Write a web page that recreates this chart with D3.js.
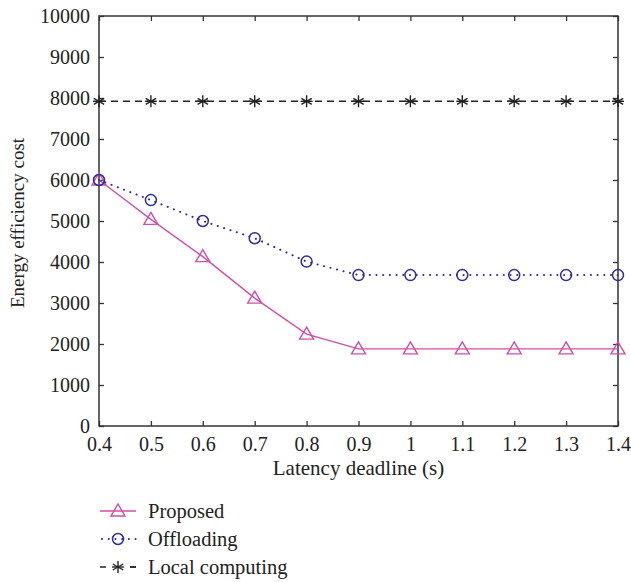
<!DOCTYPE html>
<html>
<head>
<meta charset="utf-8">
<script src="https://cdn.jsdelivr.net/npm/d3@7"></script>
<style>
  body { margin: 0; background: #fff; }
  text { font-family: "Liberation Serif", "DejaVu Serif", serif; fill: #222; }
</style>
</head>
<body>
<div id="chart"></div>
<script>
// data
let deadlines = [0.4, 0.5, 0.6, 0.7, 0.8, 0.9, 1.0, 1.1, 1.2, 1.3, 1.4];
let proposed = [6000, 5040, 4130, 3120, 2240, 1880, 1880, 1880, 1880, 1880, 1880];
let offloading = [6000, 5510, 5000, 4580, 4010, 3680, 3680, 3680, 3680, 3680, 3680];
let localComputing = [7920, 7920, 7920, 7920, 7920, 7920, 7920, 7920, 7920, 7920, 7920];
let xTicks = [0.4, 0.5, 0.6, 0.7, 0.8, 0.9, 1, 1.1, 1.2, 1.3, 1.4];
let yTicks = [0, 1000, 2000, 3000, 4000, 5000, 6000, 7000, 8000, 9000, 10000];

let seriesList = [
  { name: "Proposed", values: proposed, color: "#d14fa6", dash: null, marker: "triangle" },
  { name: "Offloading", values: offloading, color: "#2e2aa0", dash: "0.1,6.6", marker: "circle" },
  { name: "Local computing", values: localComputing, color: "#222", dash: "7,5", marker: "star" }
];

let fullWidth = 631, fullHeight = 582;
let margin = { top: 16, right: 13, bottom: 156, left: 99 };
let width = fullWidth - margin.left - margin.right;
let height = fullHeight - margin.top - margin.bottom;

let svg = d3.select("#chart").append("svg")
  .attr("width", fullWidth)
  .attr("height", fullHeight);

let chart = svg.append("g")
  .attr("transform", "translate(" + margin.left + "," + margin.top + ")");

let xScale = d3.scaleLinear().domain([0.4, 1.4]).range([0, width]);
let yScale = d3.scaleLinear().domain([0, 10000]).range([height, 0]);

// axes, ticks pointing inward, mirrored on top/right
function styleAxis(g) {
  g.select(".domain").remove();
  g.selectAll("line").attr("stroke", "#333").attr("stroke-width", 1.3);
  g.selectAll("text").style("font-size", "20px").attr("fill", "#222");
}

chart.append("g")
  .attr("transform", "translate(0," + height + ")")
  .call(d3.axisBottom(xScale).tickValues(xTicks).tickSizeInner(-5).tickSizeOuter(0).tickPadding(11)
    .tickFormat(function(d) { return d3.format("~g")(d); }))
  .call(styleAxis);

chart.append("g")
  .call(d3.axisTop(xScale).tickValues(xTicks).tickSizeInner(-5).tickSizeOuter(0).tickFormat(""))
  .call(styleAxis);

chart.append("g")
  .call(d3.axisLeft(yScale).tickValues(yTicks).tickSizeInner(-5).tickSizeOuter(0).tickPadding(9)
    .tickFormat(d3.format("d")))
  .call(styleAxis);

chart.append("g")
  .attr("transform", "translate(" + width + ",0)")
  .call(d3.axisRight(yScale).tickValues(yTicks).tickSizeInner(-5).tickSizeOuter(0).tickFormat(""))
  .call(styleAxis);

// frame
chart.append("rect")
  .attr("width", width)
  .attr("height", height)
  .attr("fill", "none")
  .attr("stroke", "#333")
  .attr("stroke-width", 1.5);

// markers
function drawMarker(g, type, color) {
  if (type === "triangle") {
    g.append("path").attr("d", "M0,-7 L7,5 L-7,5 Z")
      .attr("fill", "none").attr("stroke", color).attr("stroke-width", 1.4);
  } else if (type === "circle") {
    g.append("circle").attr("r", 5.5)
      .attr("fill", "none").attr("stroke", color).attr("stroke-width", 1.5);
  } else {
    let r = 6;
    [0, 60, 120].forEach(function(a) {
      let rad = a * Math.PI / 180;
      g.append("line")
        .attr("x1", -r * Math.sin(rad)).attr("y1", -r * Math.cos(rad))
        .attr("x2", r * Math.sin(rad)).attr("y2", r * Math.cos(rad))
        .attr("stroke", color).attr("stroke-width", 1.4);
    });
    g.append("line").attr("x1", -r).attr("x2", r).attr("y1", 0).attr("y2", 0)
      .attr("stroke", color).attr("stroke-width", 1.4);
  }
}

let line = d3.line()
  .x(function(d) { return xScale(d.x); })
  .y(function(d) { return yScale(d.y); });

seriesList.forEach(function(s) {
  let pts = deadlines.map(function(x, i) { return { x: x, y: s.values[i] }; });
  chart.append("path")
    .datum(pts)
    .attr("d", line)
    .attr("fill", "none")
    .attr("stroke", s.color)
    .attr("stroke-width", s.marker === "circle" ? 2 : 1.4)
    .attr("stroke-linecap", s.marker === "circle" ? "round" : "butt")
    .attr("stroke-dasharray", s.dash);

  pts.forEach(function(p) {
    let g = chart.append("g")
      .attr("transform", "translate(" + xScale(p.x) + "," + yScale(p.y) + ")");
    drawMarker(g, s.marker, s.color);
  });
});

// axis titles
svg.append("text")
  .attr("x", margin.left + width / 2)
  .attr("y", 475)
  .attr("text-anchor", "middle")
  .style("font-size", "21px")
  .text("Latency deadline (s)");

svg.append("text")
  .attr("transform", "translate(24," + (margin.top + height / 2 + 2) + ") rotate(-90)")
  .attr("text-anchor", "middle")
  .style("font-size", "19px")
  .text("Energy efficiency cost");

// legend
let legend = svg.append("g").attr("transform", "translate(100,511)");
seriesList.forEach(function(s, i) {
  let row = legend.append("g").attr("transform", "translate(0," + (i * 28) + ")");
  row.append("line")
    .attr("x1", s.marker === "circle" ? 2 : 0).attr("x2", 36).attr("y1", 0).attr("y2", 0)
    .attr("stroke", s.color)
    .attr("stroke-width", s.marker === "circle" ? 2 : 1.4)
    .attr("stroke-linecap", s.marker === "circle" ? "round" : "butt")
    .attr("stroke-dasharray", s.marker === "star" ? "6,24" : s.dash);
  if (s.marker === "star") {
    row.append("line").attr("x1", 30).attr("x2", 36).attr("y1", 0).attr("y2", 0)
      .attr("stroke", s.color).attr("stroke-width", 1.4);
  }
  let m = row.append("g").attr("transform", "translate(18,0)");
  drawMarker(m, s.marker, s.color);
  row.append("text")
    .attr("x", 48)
    .attr("y", 7)
    .style("font-size", "20.5px")
    .text(s.name);
});
</script>
</body>
</html>
